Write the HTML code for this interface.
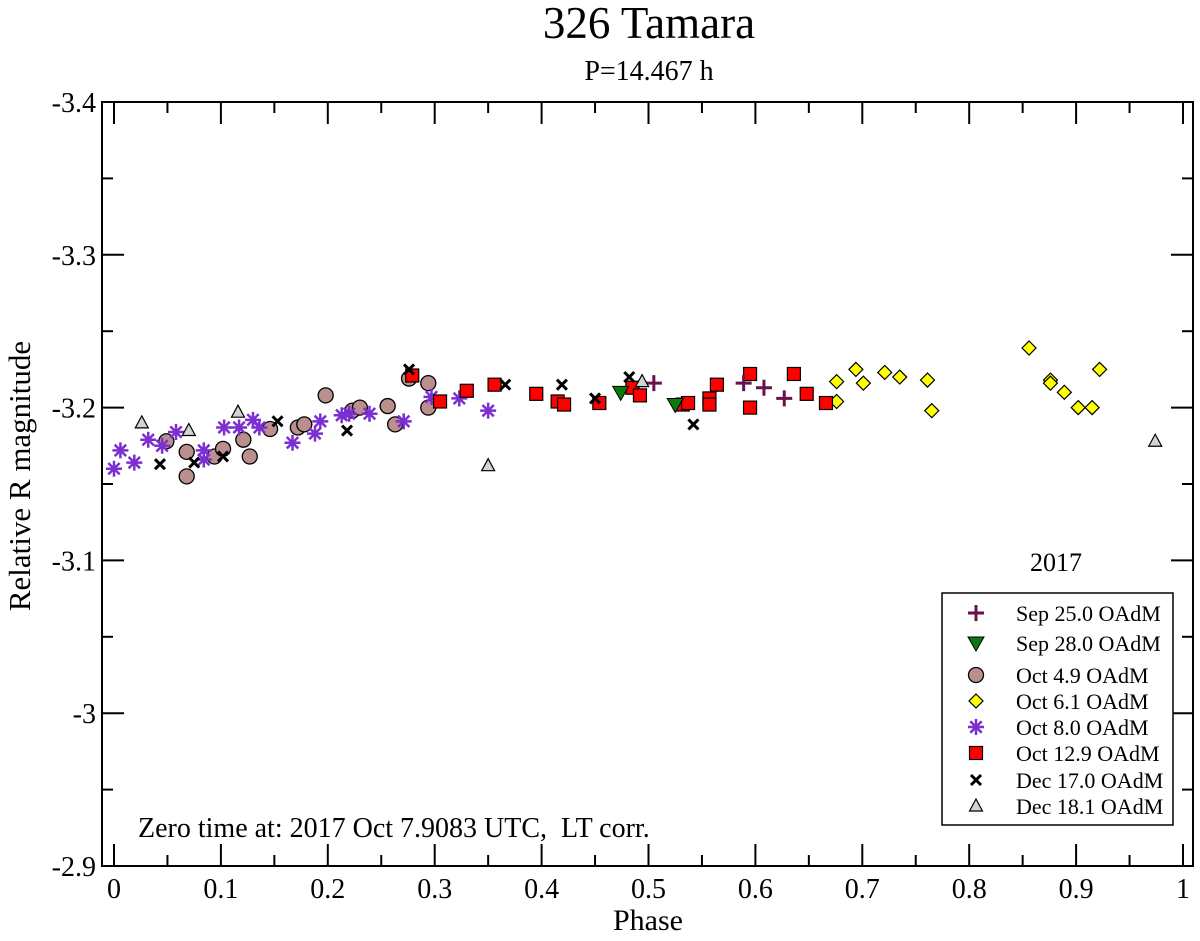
<!DOCTYPE html>
<html><head><meta charset="utf-8"><style>
body{margin:0;background:#fff}
text{font-family:"Liberation Serif",serif;fill:#000}
</style></head><body>
<svg id="chart" width="1200" height="936" xmlns="http://www.w3.org/2000/svg">
<text x="649" y="38" font-size="45" text-anchor="middle">326 Tamara</text>
<text x="649" y="80" font-size="28" text-anchor="middle">P=14.467 h</text>
<g id="axes"></g>
<g id="marks"></g>
<text x="648" y="930" font-size="30" text-anchor="middle">Phase</text>
<text transform="translate(30,476) rotate(-90)" font-size="31" text-anchor="middle">Relative R magnitude</text>
<text x="1056" y="571" font-size="26" text-anchor="middle">2017</text>
<text x="138" y="837" font-size="28" xml:space="preserve">Zero time at: 2017 Oct 7.9083 UTC,  LT corr.</text>
<rect x="942" y="593" width="231" height="232" fill="#fff" stroke="#000" stroke-width="1.5"/>
<g id="legend"></g>
</svg>
<script>
const xTicks=[0,0.1,0.2,0.3,0.4,0.5,0.6,0.7,0.8,0.9,1];
const xTickLabels=["0","0.1","0.2","0.3","0.4","0.5","0.6","0.7","0.8","0.9","1"];
const yTicks=[-3.4,-3.3,-3.2,-3.1,-3.0,-2.9];
const yTickLabels=["-3.4","-3.3","-3.2","-3.1","-3","-2.9"];
const seriesNames=["Sep 25.0 OAdM","Sep 28.0 OAdM","Oct 4.9 OAdM","Oct 6.1 OAdM","Oct  8.0 OAdM","Oct 12.9 OAdM","Dec 17.0 OAdM","Dec 18.1 OAdM"];
const sep25Phase=[0.505,0.589,0.608,0.627];
const sep25Mag=[-3.216,-3.216,-3.213,-3.206];
const sep28Phase=[0.474,0.525];
const sep28Mag=[-3.210,-3.202];
const oct4Phase=[0.049,0.068,0.068,0.094,0.102,0.121,0.127,0.146,0.172,0.178,0.198,0.223,0.230,0.256,0.263,0.276,0.294,0.294];
const oct4Mag=[-3.178,-3.171,-3.155,-3.168,-3.173,-3.179,-3.168,-3.186,-3.187,-3.189,-3.208,-3.198,-3.200,-3.201,-3.189,-3.219,-3.216,-3.200];
const oct6Phase=[0.676,0.676,0.694,0.701,0.721,0.735,0.761,0.765,0.856,0.876,0.876,0.889,0.902,0.915,0.922];
const oct6Mag=[-3.217,-3.204,-3.225,-3.216,-3.223,-3.220,-3.218,-3.198,-3.239,-3.218,-3.216,-3.210,-3.200,-3.200,-3.225];
const oct8Phase=[0,0.006,0.019,0.032,0.045,0.058,0.084,0.084,0.103,0.117,0.130,0.136,0.167,0.188,0.193,0.213,0.220,0.239,0.271,0.297,0.323,0.350];
const oct8Mag=[-3.160,-3.172,-3.164,-3.179,-3.175,-3.184,-3.172,-3.166,-3.187,-3.187,-3.192,-3.187,-3.177,-3.183,-3.191,-3.195,-3.196,-3.196,-3.191,-3.207,-3.206,-3.198];
const oct12Phase=[0.279,0.305,0.330,0.356,0.395,0.415,0.421,0.454,0.485,0.492,0.532,0.537,0.557,0.557,0.564,0.595,0.595,0.636,0.648,0.666];
const oct12Mag=[-3.221,-3.204,-3.211,-3.215,-3.209,-3.204,-3.202,-3.203,-3.213,-3.208,-3.202,-3.203,-3.206,-3.202,-3.215,-3.222,-3.200,-3.222,-3.209,-3.203];
const dec17Phase=[0.043,0.075,0.102,0.153,0.218,0.276,0.366,0.419,0.450,0.482,0.542];
const dec17Mag=[-3.163,-3.164,-3.168,-3.191,-3.185,-3.225,-3.215,-3.215,-3.206,-3.220,-3.189];
const dec18Phase=[0.026,0.070,0.116,0.350,0.494,0.974];
const dec18Mag=[-3.190,-3.185,-3.197,-3.162,-3.217,-3.178];

const NS="http://www.w3.org/2000/svg";
const L=102,R=1193,T=102,B=866;
function xs(p){return 114+p*1069;}
function ys(m){return T+(m+3.4)*(B-T)/0.5;}
function mk(tag,attrs,parent){const e=document.createElementNS(NS,tag);for(const k in attrs)e.setAttribute(k,attrs[k]);parent.appendChild(e);return e;}
const axes=document.getElementById('axes');
const frame=mk('rect',{x:L,y:T,width:R-L,height:B-T,fill:'none',stroke:'#000','stroke-width':2},axes);


xTicks.forEach((v,i)=>{
  const x=xs(v);
  const t1=mk('line',{x1:x,x2:x,y1:B,y2:B-22,stroke:'#000','stroke-width':2},axes);
  
  
  const t2=mk('line',{x1:x,x2:x,y1:T,y2:T+22,stroke:'#000','stroke-width':2},axes);
  
  
  if(i<xTicks.length-1){const xm=xs(v+0.05);
    const m1=mk('line',{x1:xm,x2:xm,y1:B,y2:B-11,stroke:'#000','stroke-width':2},axes);
    
    
    const m2=mk('line',{x1:xm,x2:xm,y1:T,y2:T+11,stroke:'#000','stroke-width':2},axes);
    
    }
  const lb=mk('text',{x:x,y:B+32,'font-size':28,'text-anchor':'middle'},axes);
  lb.textContent=xTickLabels[i];
  
  
});
yTicks.forEach((v,i)=>{
  const y=ys(v);
  const t1=mk('line',{x1:L,x2:L+22,y1:y,y2:y,stroke:'#000','stroke-width':2},axes);
  
  
  const t2=mk('line',{x1:R,x2:R-22,y1:y,y2:y,stroke:'#000','stroke-width':2},axes);
  
  
  if(i<yTicks.length-1){const ym=ys(v+0.05);
    const m1=mk('line',{x1:L,x2:L+11,y1:ym,y2:ym,stroke:'#000','stroke-width':2},axes);
    
    
    const m2=mk('line',{x1:R,x2:R-11,y1:ym,y2:ym,stroke:'#000','stroke-width':2},axes);
    
    }
  const lb=mk('text',{x:L-6,y:y+10,'font-size':28,'text-anchor':'end'},axes);
  lb.textContent=yTickLabels[i];
  
  
});
function sym(type,x,y,parent){
  const g=mk('g',{},parent);
  if(type==='plus'){mk('path',{d:`M${x-8},${y}H${x+8}M${x},${y-8}V${y+8}`,stroke:'#6b0f4f','stroke-width':3},g);}
  else if(type==='tridown'){mk('path',{d:`M${x-8},${y-6}L${x+8},${y-6}L${x},${y+8}Z`,fill:'#0a7a0a',stroke:'#000','stroke-width':1},g);}
  else if(type==='circle'){mk('circle',{cx:x,cy:y,r:7.5,fill:'#bc8f8f',stroke:'#000','stroke-width':1.3},g);}
  else if(type==='diamond'){mk('path',{d:`M${x},${y-7}L${x+7},${y}L${x},${y+7}L${x-7},${y}Z`,fill:'#ffff00',stroke:'#000','stroke-width':1.2},g);}
  else if(type==='star'){mk('path',{d:`M${x-8},${y}H${x+8}M${x},${y-8}V${y+8}M${x-5.7},${y-5.7}L${x+5.7},${y+5.7}M${x-5.7},${y+5.7}L${x+5.7},${y-5.7}`,stroke:'#7b2fd0','stroke-width':2.5},g);}
  else if(type==='square'){mk('rect',{x:x-6.5,y:y-6.5,width:13,height:13,fill:'#ff0000',stroke:'#000','stroke-width':1.2},g);}
  else if(type==='x'){mk('path',{d:`M${x-5},${y-5}L${x+5},${y+5}M${x-5},${y+5}L${x+5},${y-5}`,stroke:'#000','stroke-width':3},g);}
  else if(type==='tri'){mk('path',{d:`M${x-6.5},${y+5}L${x+6.5},${y+5}L${x},${y-7}Z`,fill:'#d3d3d3',stroke:'#000','stroke-width':1.2},g);}
  return g;
}
const series=[
 ['plus',sep25Phase,sep25Mag,'sep25'],
 ['tridown',sep28Phase,sep28Mag,'sep28'],
 ['circle',oct4Phase,oct4Mag,'oct4'],
 ['diamond',oct6Phase,oct6Mag,'oct6'],
 ['star',oct8Phase,oct8Mag,'oct8'],
 ['square',oct12Phase,oct12Mag,'oct12'],
 ['x',dec17Phase,dec17Mag,'dec17'],
 ['tri',dec18Phase,dec18Mag,'dec18']];
const marks=document.getElementById('marks');
const order=[2,4,3,5,0,1,6,7];
order.forEach(si=>{const s=series[si];
  s[1].forEach((p,i)=>{const g=sym(s[0],xs(p),ys(s[2][i]),marks);
    
    });
});
const legend=document.getElementById('legend');
const ly=[613,643,675,701,727,753,780,806];
series.forEach((s,i)=>{
  const g=sym(s[0],976,ly[i],legend);
  
  
  const t=mk('text',{x:1016,y:ly[i]+8,'font-size':22,'xml:space':'preserve'},legend);
  t.textContent=seriesNames[i];
  
  
});
</script>
</body></html>
